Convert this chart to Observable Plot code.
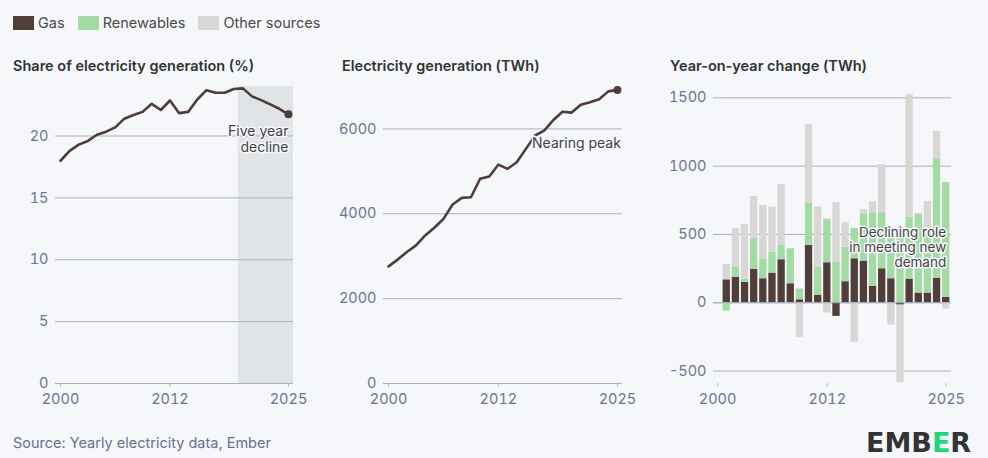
<!DOCTYPE html>
<html>
<head>
<meta charset="utf-8">
<script src="https://cdn.jsdelivr.net/npm/d3@7"></script>
<script src="https://cdn.jsdelivr.net/npm/@observablehq/plot@0.6"></script>
<style>
  html, body { margin: 0; padding: 0; background: #f5f7fa; }
  body { width: 988px; height: 458px; position: relative; overflow: hidden; font-family: Inter, "Open Sans", sans-serif; }
  .abs { position: absolute; }
  .legend { left: 13px; top: 14px; display: flex; align-items: center; font-size: 14.5px; color: #4a4a4a; }
  .legend span.sw { display: inline-block; width: 21px; height: 14px; margin-right: 4px; }
  .legend span.item { display: inline-flex; align-items: center; margin-right: 13px; }
  .title { font-size: 14.5px; font-weight: 600; color: #333; top: 57px; white-space: nowrap; }
  .source { left: 13px; top: 434px; font-size: 14.5px; color: #6b7089; }
</style>
</head>
<body>
<div id="legend" class="abs legend"></div>
<div class="abs title" style="left:13px">Share of electricity generation (%)</div>
<div class="abs title" style="left:342px">Electricity generation (TWh)</div>
<div class="abs title" style="left:670px">Year-on-year change (TWh)</div>
<div id="p1" class="abs" style="left:0px;top:60px"></div>
<div id="p2" class="abs" style="left:330px;top:60px"></div>
<div id="p3" class="abs" style="left:660px;top:60px"></div>
<div class="abs source">Source: Yearly electricity data, Ember</div>
<svg class="abs" style="left:862px;top:424px" width="120" height="34">
  <text x="4" y="28" font-family="DejaVu Sans" font-weight="bold" font-size="27" fill="#333333">EMB<tspan fill="#1fd77a">E</tspan>R</text>
</svg>
<script>
// ---- data ----
const years = [2000, 2001, 2002, 2003, 2004, 2005, 2006, 2007, 2008, 2009, 2010, 2011, 2012,
               2013, 2014, 2015, 2016, 2017, 2018, 2019, 2020, 2021, 2022, 2023, 2024, 2025];
const gasShare = [18.0, 18.8, 19.3, 19.6, 20.1, 20.35, 20.7, 21.4, 21.7, 21.95, 22.6, 22.1, 22.87,
                  21.85, 21.95, 22.95, 23.7, 23.5, 23.5, 23.8, 23.85, 23.2, 22.9, 22.55, 22.2, 21.75];
const gasTWh = [2760, 2920, 3100, 3255, 3490, 3670, 3880, 4220, 4375, 4390, 4825, 4880, 5160,
                5060, 5215, 5530, 5845, 5960, 6210, 6405, 6385, 6570, 6630, 6700, 6885, 6920];
const yoyYears = years.slice(1);
const yoyGas = [168, 185, 149, 244, 176, 217, 315, 139, 22, 420, 56, 293,
                -100, 154, 322, 305, 120, 249, 176, -17, 173, 71, 71, 180, 39];
const yoyRenewables = [-61, 76, 24, 229, 146, 154, 105, 256, 78, 307, 203, 319,
                       295, 253, 222, 346, 539, 410, 353, 546, 454, 578, 468, 874, 841];
const yoyOther = [112, 280, 400, 305, 390, 329, 446, -12, -256, 578, 441, -76,
                  437, 178, -290, 32, 80, 351, -163, -568, 895, 5, 202, 200, -46];
const sources = ["Gas", "Renewables", "Other sources"];
const sourceColors = ["#513d39", "#a3dba4", "#d9d7d5"];
const xTicks = [2000, 2012, 2025];

// ---- styles ----
const lineColor = "#503c38";
const gridColor = "#a9afc3";
const tickTextColor = "#6c7590";
const font = "Inter, 'Open Sans', sans-serif";
const plotStyle = {background: "transparent", fontFamily: font, fontSize: "14.5px", overflow: "visible"};

// legend
const legend = document.getElementById("legend");
sources.forEach((s, i) => {
  const item = document.createElement("span");
  item.className = "item";
  item.innerHTML = `<span class="sw" style="background:${sourceColors[i]}"></span>${s}`;
  legend.appendChild(item);
});

const shareData = years.map((y, i) => ({year: y, value: gasShare[i]}));
const twhData = years.map((y, i) => ({year: y, value: gasTWh[i]}));

const xAxis = () => Plot.axisX({ticks: xTicks, tickFormat: d => String(d), tickSize: 4, tickPadding: 6,
  label: null, stroke: "#b9bdcb", fill: tickTextColor, fontSize: 14.5});
const yAxis = (ticks) => Plot.axisY({ticks, tickFormat: d => String(d), tickSize: 0, tickPadding: 7,
  label: null, fill: tickTextColor, fontSize: 14.5});
const halo = {stroke: "#f5f7fa", strokeWidth: 3, paintOrder: "stroke"};

// Panel 1
const p1 = Plot.plot({
  width: 320, height: 353, marginTop: 26, marginBottom: 30, marginLeft: 55, marginRight: 27,
  style: plotStyle,
  x: {domain: [1999.45, 2025.55]},
  y: {domain: [0, 24]},
  marks: [
    Plot.rect([{x1: 2019.5, x2: 2025.55}], {x1: "x1", x2: "x2", y1: 0, y2: 24, fill: "#e1e4e7"}),
    Plot.ruleY([0, 5, 10, 15, 20], {stroke: gridColor, strokeWidth: 1}),
    yAxis([0, 5, 10, 15, 20]),
    xAxis(),
    Plot.line(shareData, {x: "year", y: "value", stroke: lineColor, strokeWidth: 2.6}),
    Plot.dot(shareData.slice(-1), {x: "year", y: "value", r: 4, fill: lineColor}),
    Plot.text(shareData.slice(-1), {x: "year", y: "value", text: () => "Five year\ndecline",
      textAnchor: "end", lineAnchor: "top", dy: 11, lineHeight: 1.12, fill: "#444", fontSize: 14, ...halo})
  ]
});
document.getElementById("p1").appendChild(p1);

// Panel 2
const p2 = Plot.plot({
  width: 320, height: 353, marginTop: 26, marginBottom: 30, marginLeft: 53, marginRight: 28,
  style: plotStyle,
  x: {domain: [1999.45, 2025.55]},
  y: {domain: [0, 7000]},
  marks: [
    Plot.ruleY([0, 2000, 4000, 6000], {stroke: gridColor, strokeWidth: 1}),
    yAxis([0, 2000, 4000, 6000]),
    xAxis(),
    Plot.line(twhData, {x: "year", y: "value", stroke: lineColor, strokeWidth: 2.6}),
    Plot.dot(twhData.slice(-1), {x: "year", y: "value", r: 4, fill: lineColor}),
    Plot.text(twhData.filter(d => d.year === 2016), {x: "year", y: "value", text: () => "Nearing peak",
      textAnchor: "start", lineAnchor: "middle", dx: -3, dy: 8, fill: "#444", fontSize: 14, ...halo})
  ]
});
document.getElementById("p2").appendChild(p2);

// Panel 3: stack positives up, negatives down
const stacked = [];
const series = [yoyGas, yoyRenewables, yoyOther];
yoyYears.forEach((yr, i) => {
  let pos = 0, neg = 0;
  series.forEach((arr, k) => {
    const v = arr[i];
    if (v >= 0) { stacked.push({year: yr, source: sources[k], y1: pos, y2: pos + v}); pos += v; }
    else { stacked.push({year: yr, source: sources[k], y1: neg, y2: neg + v}); neg += v; }
  });
});

const p3 = Plot.plot({
  width: 328, height: 353, marginTop: 26, marginBottom: 30, marginLeft: 53, marginRight: 37,
  style: plotStyle,
  x: {domain: [1999.55, 2025.58]},
  y: {domain: [-591, 1583]},
  color: {domain: sources, range: sourceColors},
  marks: [
    Plot.ruleY([-500, 0, 500, 1000, 1500], {stroke: gridColor, strokeWidth: 1}),
    yAxis([-500, 0, 500, 1000, 1500]),
    xAxis(),
    Plot.rect(stacked, {x1: d => d.year - 0.4, x2: d => d.year + 0.4, y1: "y1", y2: "y2", fill: "source"}),
    Plot.ruleY([0], {stroke: gridColor, strokeWidth: 1}),
    Plot.text([{year: 2025, value: 500}], {x: "year", y: "value", text: () => "Declining role\nin meeting new\ndemand",
      textAnchor: "end", lineAnchor: "top", dy: -8, lineHeight: 1.1, fill: "#444", fontSize: 13.5, ...halo})
  ]
});
document.getElementById("p3").appendChild(p3);
</script>
</body>
</html>
